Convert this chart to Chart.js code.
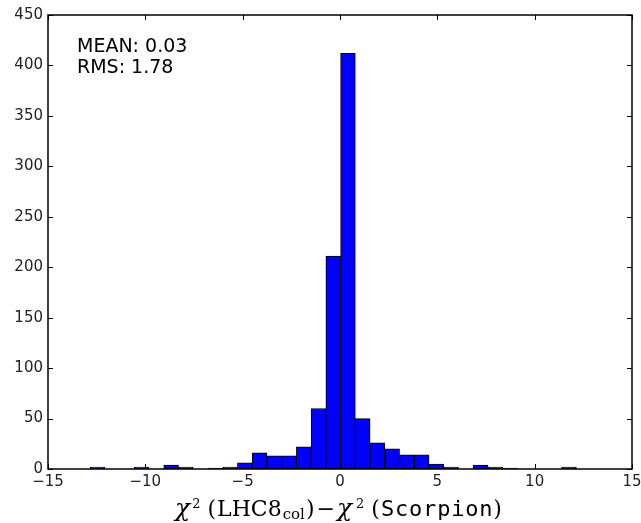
<!DOCTYPE html>
<html><head><meta charset="utf-8">
<script src="https://cdn.jsdelivr.net/npm/chart.js@4.4.0/dist/chart.umd.min.js"></script>
<style>
html,body{margin:0;padding:0;background:#fff;}
#wrap{position:relative;width:641px;height:523px;overflow:hidden;background:#fff;}
canvas{position:absolute;left:0;top:0;}
.stat{position:absolute;left:77px;font-family:'DejaVu Sans';font-size:19px;line-height:21px;color:#000;white-space:nowrap;}
#xt{position:absolute;left:175px;top:497px;font-family:'DejaVu Serif';font-size:22px;line-height:21px;white-space:nowrap;color:#000;}
#xt .chi{font-style:italic;font-size:25px;margin-right:1px;}
#xt .sup{position:relative;top:-8px;font-size:13px;margin-left:1px;}
#xt .sup2{margin-left:3px;}
#xt .sub{position:relative;top:3px;font-size:15px;margin-left:1px;margin-right:1px;}
#xt .tt{font-family:'DejaVu Sans Mono';letter-spacing:0.8px;}
#xt .lp{margin-right:1px;}
#xt .op{margin:0 2px 0 2px;}
</style></head><body>
<div id="wrap"><canvas id="c" width="641" height="523"></canvas>
<div class="stat" id="s1" style="top:35px"></div>
<div class="stat" id="s2" style="top:56px"></div>
<div id="xt"><span class="chi">χ</span><span class="sup">2</span> <span class="lp">(</span>LHC8<span class="sub">col</span>)<span class="op">−</span><span class="chi">χ</span><span class="sup sup2">2</span> <span class="lp">(</span><span class="tt">Scorpion</span>)</div>
</div>
<script>
// histogram bin centres (x) and counts (y)
const binCenters = [-12.460,-11.703,-10.946,-10.189,-9.432,-8.675,-7.918,-7.161,-6.404,-5.647,-4.890,-4.133,-3.376,-2.619,-1.862,-1.105,-0.348,0.409,1.166,1.923,2.680,3.437,4.194,4.951,5.708,6.465,7.222,7.979,8.736,9.493,10.250,11.007,11.764];
const counts     = [2,0,0,2,0,4,2,0,1,2,6,16,13,13,22,60,211,412,50,26,20,14,14,5,2,0,4,2,1,0,0,0,2];
const xTicks = [-15,-10,-5,0,5,10,15];
const yTicks = [0,50,100,150,200,250,300,350,400,450];
const statLabels = ['MEAN: 0.03','RMS: 1.78'];

document.getElementById('s1').textContent = statLabels[0];
document.getElementById('s2').textContent = statLabels[1];

const fmt = v => (v < 0 ? '\u2212' + Math.abs(v) : String(v));

const frame = {
  id: 'frame',
  afterDatasetsDraw(chart) {
    const {ctx, chartArea: a, scales: {x, y}} = chart;
    ctx.save();
    ctx.strokeStyle = '#000';
    ctx.lineWidth = 1;
    ctx.beginPath();
    x.ticks.forEach(t => {
      const px = Math.round(x.getPixelForValue(t.value)) + 0.5;
      ctx.moveTo(px, a.bottom); ctx.lineTo(px, a.bottom - 5);
      ctx.moveTo(px, a.top); ctx.lineTo(px, a.top + 5);
    });
    y.ticks.forEach(t => {
      const py = Math.round(y.getPixelForValue(t.value)) + 0.5;
      ctx.moveTo(a.left, py); ctx.lineTo(a.left + 5, py);
      ctx.moveTo(a.right, py); ctx.lineTo(a.right - 5, py);
    });
    ctx.stroke();
    ctx.lineWidth = 1.5;
    ctx.strokeRect(a.left, a.top, a.right - a.left, a.bottom - a.top);
    ctx.restore();
  }
};

new Chart(document.getElementById('c'), {
  type: 'bar',
  data: {
    datasets: [{
      data: binCenters.map((c, i) => ({x: c, y: counts[i]})),
      backgroundColor: '#0000ff',
      borderColor: '#000000',
      borderWidth: 1,
      borderSkipped: false,
      barPercentage: 1,
      categoryPercentage: 1
    }]
  },
  options: {
    responsive: false,
    animation: false,
    devicePixelRatio: 1,
    layout: {padding: {left: 0, right: 9, top: 15, bottom: 0}},
    plugins: {legend: {display: false}, tooltip: {enabled: false}},
    scales: {
      x: {
        type: 'linear', min: -15, max: 15, offset: false,
        afterBuildTicks: s => { s.ticks = xTicks.map(v => ({value: v})); },
        afterFit: s => { s.height = 54; s.paddingLeft = 0; s.paddingRight = 0; },
        grid: {display: false, drawTicks: false, offset: false},
        border: {display: false},
        ticks: {callback: fmt, font: {family: 'DejaVu Sans', size: 15}, color: '#222', padding: 4, maxRotation: 0, autoSkip: false}
      },
      y: {
        type: 'linear', min: 0, max: 450,
        afterBuildTicks: s => { s.ticks = yTicks.map(v => ({value: v})); },
        afterFit: s => { s.width = 48; s.paddingTop = 0; s.paddingBottom = 0; },
        grid: {display: false, drawTicks: false},
        border: {display: false},
        ticks: {callback: fmt, font: {family: 'DejaVu Sans', size: 15}, color: '#222', padding: 5, autoSkip: false}
      }
    }
  },
  plugins: [frame]
});
</script>
</body></html>
